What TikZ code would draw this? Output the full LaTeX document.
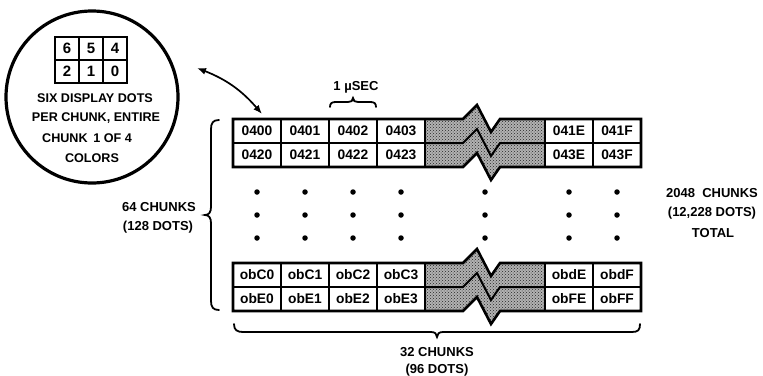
\documentclass[tikz,border=0pt]{standalone}
\usepackage{fontspec}
\setmainfont{Liberation Sans}
\usetikzlibrary{arrows.meta,patterns}
\begin{document}
\begin{tikzpicture}[x=1pt,y=-1pt,
  cell/.style={draw, line width=1.4pt, minimum width=48pt, minimum height=24pt, inner sep=0pt,
    font=\fontsize{13.8}{15}\selectfont\bfseries},
  gcell/.style={draw, line width=1.8pt, minimum width=24pt, minimum height=23pt, inner sep=0pt,
    font=\fontsize{15}{17}\selectfont\bfseries},
  lbl/.style={inner sep=0pt, font=\fontsize{13}{15}\selectfont\bfseries},
  clbl/.style={inner sep=0pt, font=\fontsize{12.6}{15}\selectfont\bfseries},
  bigdot/.style={circle, fill=black, inner sep=0pt, minimum size=5.5pt},
  frame/.style={line width=2.6pt, line join=miter},
  tear/.style={fill=black!30, postaction={pattern=crosshatch dots, pattern color=black!85}},
  bracestyle/.style={line width=1.8pt, line cap=round}
]
\useasboundingbox (0,0) rectangle (763,375);
\fill[white] (0,0) rectangle (763,375);

% --- circle with the chunk ---
\node[draw, circle, line width=3.2pt, minimum size=172pt, inner sep=0pt] (disc) at (92,97) {};
\node[gcell] (g6) at (67,48.5) {6};
\node[gcell] (g5) at (91,48.5) {5};
\node[gcell] (g4) at (115,48.5) {4};
\node[gcell] (g2) at (67,71.5) {2};
\node[gcell] (g1) at (91,71.5) {1};
\node[gcell] (g0) at (115,71.5) {0};
\node[clbl] (c1) at (95,98) {SIX DISPLAY DOTS};
\node[clbl] (c2) at (96,118) {PER CHUNK, ENTIRE};
\node[clbl] (c3) at (87,138) {CHUNK \,1 OF 4};
\node[clbl] (c4) at (92,158) {COLORS};

% --- arrow ---
\coordinate (arrA) at (197,68);
\coordinate (arrB) at (262,114);
\draw[{Latex[length=9pt,width=7pt]}-{Latex[length=9pt,width=7pt]}, line width=1.7pt]
  (arrA) to[bend left=14] (arrB);

% --- 1 usec ---
\node[lbl] (usec) at (356,87) {1 µSEC};
\draw[bracestyle] (330,107) .. controls (330,103) and (332,102) .. (336,102) -- (348,102)
  .. controls (351,102) and (353,101) .. (353,98)
  .. controls (353,101) and (355,102) .. (358,102) -- (370,102)
  .. controls (374,102) and (376,103) .. (376,107);

% --- tables ---
\foreach \oy in {0,144} {
  \path[tear] (425,119+\oy) -- (463,119+\oy) -- (477,105+\oy) -- (491,132+\oy) -- (500,119+\oy)
    -- (545,119+\oy) -- (545,167+\oy) -- (500,167+\oy) -- (491,180+\oy) -- (477,153+\oy)
    -- (463,167+\oy) -- (425,167+\oy) -- cycle;
  \draw[line width=2pt, line join=miter] (425,143+\oy) -- (463,143+\oy) -- (477,129+\oy)
    -- (491,156+\oy) -- (500,143+\oy) -- (545,143+\oy);
}
\foreach \n/\x/\t/\b in {0/257/0400/0420, 1/305/0401/0421, 2/353/0402/0422, 3/401/0403/0423,
                          4/569/041E/043E, 5/617/041F/043F} {
  \node[cell] (ta\n) at (\x,131) {\t};
  \node[cell] (tb\n) at (\x,155) {\b};
}
\foreach \n/\x/\t/\b in {0/257/obC0/obE0, 1/305/obC1/obE1, 2/353/obC2/obE2, 3/401/obC3/obE3,
                          4/569/obdE/obFE, 5/617/obdF/obFF} {
  \node[cell] (ba\n) at (\x,275) {\t};
  \node[cell] (bb\n) at (\x,299) {\b};
}
\foreach \oy in {0,144} {
  \draw[frame] (233,119+\oy) -- (463,119+\oy) -- (477,105+\oy) -- (491,132+\oy) -- (500,119+\oy)
    -- (641,119+\oy) -- (641,167+\oy) -- (500,167+\oy) -- (491,180+\oy) -- (477,153+\oy)
    -- (463,167+\oy) -- (233,167+\oy) -- cycle;
}

% --- dots ---
\foreach \i/\x in {1/257,2/305,3/353,4/401,5/485,6/569,7/617} {
  \foreach \j/\y in {1/192,2/215,3/238} {
    \node[bigdot] (d\i\j) at (\x,\y) {};
  }
}

% --- left brace ---
\draw[bracestyle] (219,120) .. controls (213,120) and (211,123) .. (211,129) -- (211,207)
  .. controls (211,212) and (209,215) .. (205,215)
  .. controls (209,215) and (211,218) .. (211,223) -- (211,301)
  .. controls (211,307) and (213,310) .. (219,310);
\node[lbl] (l1) at (159,207) {64 CHUNKS};
\node[lbl] (l2) at (158,227) {(128 DOTS)};

% --- bottom brace ---
\draw[bracestyle] (234,324) .. controls (234,330) and (237,332) .. (243,332) -- (431,332)
  .. controls (435,332) and (437,334) .. (437,337)
  .. controls (437,334) and (439,332) .. (443,332) -- (632,332)
  .. controls (638,332) and (640,330) .. (640,324);
\node[lbl] (b1) at (437,352) {32 CHUNKS};
\node[lbl] (b2) at (437,370) {(96 DOTS)};

% --- right text ---
\node[lbl] (r1) at (712,193) {2048 \ CHUNKS};
\node[lbl] (r2) at (712,213) {(12,228 DOTS)};
\node[lbl] (r3) at (713,233) {TOTAL};
\end{tikzpicture}
\end{document}
